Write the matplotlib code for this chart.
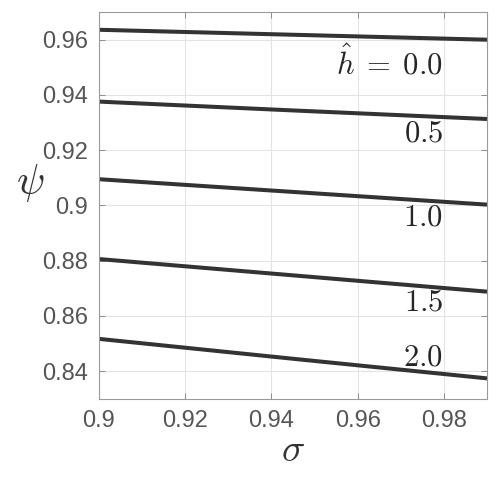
import numpy as np
import matplotlib.pyplot as plt

# ── DATA ──────────────────────────────────────────────────────────────────────
sigma      = [0.90, 0.945, 0.99]
h_labels   = [r"$\hat{h}\;=\;0.0$", "$0.5$", "$1.0$", "$1.5$", "$2.0$"]
psi_h00    = [0.9636, 0.9618, 0.9600]
psi_h05    = [0.9376, 0.9344, 0.9313]
psi_h10    = [0.9095, 0.9049, 0.9003]
psi_h15    = [0.8806, 0.8747, 0.8688]
psi_h20    = [0.8517, 0.8445, 0.8374]
x_ticks    = [0.90, 0.92, 0.94, 0.96, 0.98]
x_ticklbls = ["0.9", "0.92", "0.94", "0.96", "0.98"]
y_ticks    = [0.84, 0.86, 0.88, 0.90, 0.92, 0.94, 0.96]
y_ticklbls = ["0.84", "0.86", "0.88", "0.9", "0.92", "0.94", "0.96"]
# label anchor points (right edge, centre) in data coords
label_pos  = [(0.9798, 0.9515), (0.9798, 0.9262), (0.9798, 0.8958), (0.9798, 0.8647), (0.9798, 0.8448)]
# ─────────────────────────────────────────────────────────────────────────────

plt.rcParams["mathtext.fontset"] = "cm"
plt.rcParams["font.family"] = ["Liberation Sans", "DejaVu Sans"]

fig = plt.figure(figsize=(5, 4.84), dpi=100)
ax = fig.add_axes([0.198, 0.176, 0.776, 0.799])

series = [psi_h00, psi_h05, psi_h10, psi_h15, psi_h20]
for ys in series:
    ax.plot(sigma, ys, color="#333333", lw=2.9, solid_capstyle="butt")

for lbl, (lx, ly) in zip(h_labels, label_pos):
    ax.text(lx, ly, lbl, ha="right", va="center", fontsize=22, color="#262626")

ax.set_xlim(0.90, 0.99)
ax.set_ylim(0.83, 0.97)
ax.set_xticks(x_ticks)
ax.set_xticklabels(x_ticklbls)
ax.set_yticks(y_ticks)
ax.set_yticklabels(y_ticklbls)

ax.grid(True, color="#e3e3e3", lw=0.8)
ax.set_axisbelow(True)
ax.tick_params(direction="in", length=4, width=0.7, color="#8c8c8c",
               labelsize=17, labelcolor="#555555", top=True, right=True,
               pad=8)
for s in ax.spines.values():
    s.set_color("#9a9a9a")
    s.set_linewidth(0.8)

ax.set_xlabel(r"$\sigma$", fontsize=28, color="#333333", labelpad=1)
ax.set_ylabel(r"$\psi$", fontsize=30, color="#333333", rotation=0,
              ha="center", va="center")
ax.yaxis.set_label_coords(-0.178, 0.558)

fig.savefig("out.png", dpi=100)
